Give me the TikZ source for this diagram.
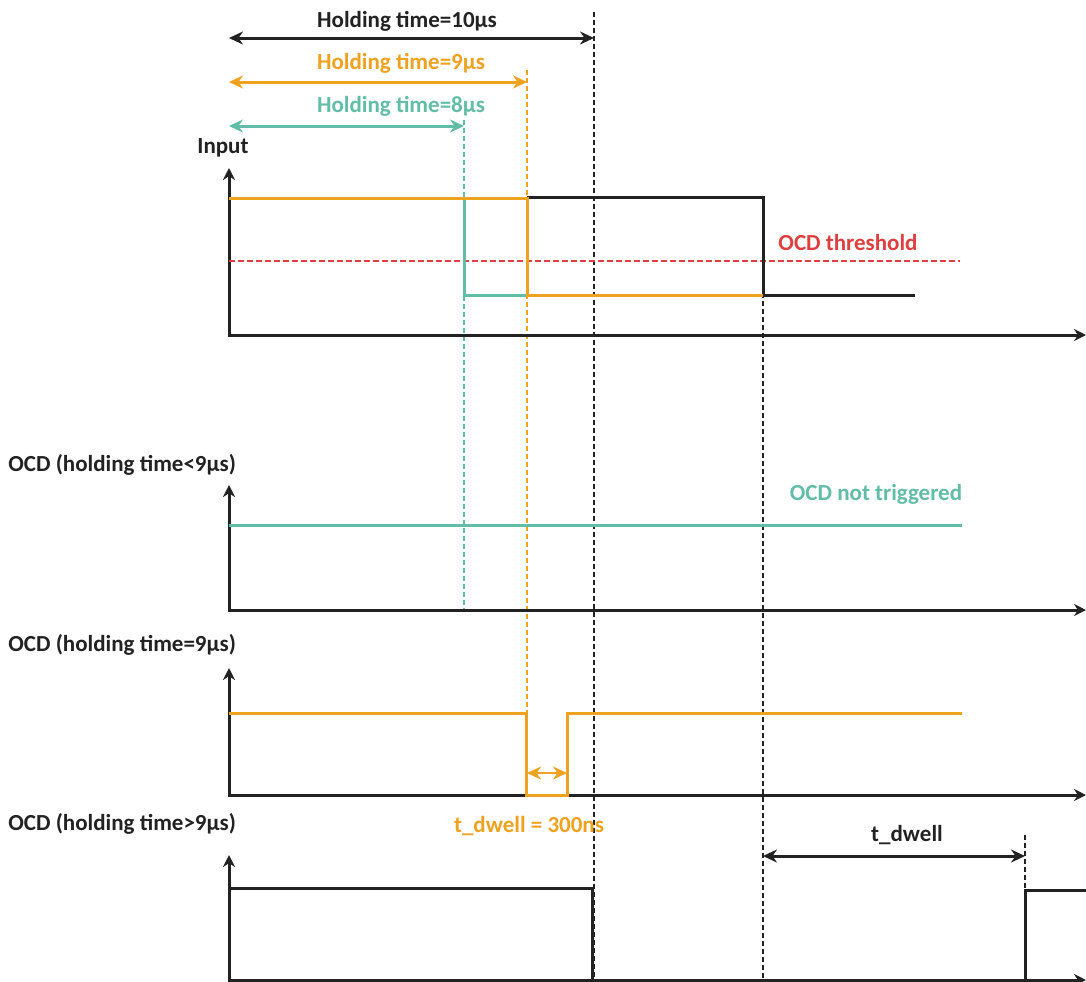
\documentclass[tikz,border=0pt]{standalone}
\usepackage{fontspec}
\setmainfont{Carlito}
\usetikzlibrary{arrows.meta}
\definecolor{ocdorange}{RGB}{238,162,32}
\definecolor{ocdteal}{RGB}{98,189,168}
\definecolor{ocdred}{RGB}{222,64,64}
\definecolor{ocdblack}{RGB}{34,34,34}
\tikzset{
  axis/.style={line width=1.5pt,ocdblack,-{Stealth[length=6pt,width=6pt]}},
  wave/.style={line width=1.5pt,line join=miter},
  guide/.style={line width=0.6pt,dash pattern=on 2.5pt off 1.5pt},
  span/.style={line width=1.5pt,{Stealth[length=7pt,width=6.5pt]}-{Stealth[length=7pt,width=6.5pt]}},
  lbl/.style={font=\fontsize{11.5}{13}\selectfont\bfseries,inner sep=0pt}
}
\begin{document}
\begin{tikzpicture}[x=0.5pt,y=-0.5pt]
\useasboundingbox[fill=white] (0,0) rectangle (1086,981);
% time instants
\coordinate (t0) at (229,0);
\coordinate (t8) at (464,0);
\coordinate (t9) at (527,0);
\coordinate (t10) at (594,0);
\coordinate (toff) at (763,0);
\coordinate (ton) at (1025,0);

% holding time spans
\node[lbl,ocdblack] (h10) at (407,21) {Holding time=10µs};
\node[lbl,ocdorange] (h9) at (401,63) {Holding time=9µs};
\node[lbl,ocdteal] (h8) at (401,106) {Holding time=8µs};
\coordinate (h10a) at (229,38);  \coordinate (h10b) at (594,38);
\coordinate (h9a) at (229,82);   \coordinate (h9b) at (527,82);
\coordinate (h8a) at (229,126);  \coordinate (h8b) at (464,126);
\draw[span,ocdblack] (h10a) -- (h10b);
\draw[span,ocdorange] (h9a) -- (h9b);
\draw[span,ocdteal] (h8a) -- (h8b);

% guide lines
\draw[guide,ocdteal] (464,120) -- (464,610);
\draw[guide,ocdorange] (527,70) -- (527,795);
\draw[guide,ocdblack] (594,12) -- (594,981);
\draw[guide,ocdblack] (763,197) -- (763,981);
\draw[guide,ocdblack] (1025,835) -- (1025,890);

% input panel
\node[lbl,ocdblack,anchor=west] (input) at (197,148) {Input};
\draw[axis] (229,335) -- (229,168);
\draw[axis] (228,335) -- (1086,335);
\draw[line width=0.8pt,ocdred,dash pattern=on 3pt off 1.5pt] (229,261) -- (960,261);
\node[lbl,ocdred] (thr) at (848,243) {OCD threshold};
\draw[wave,ocdblack] (527,197) -- (763,197) -- (763,295) -- (915,295);
\draw[wave,ocdteal] (464,198) -- (464,295) -- (527,295);
\draw[wave,ocdorange] (229,198) -- (527,198) -- (527,295) -- (763,295);

% OCD, holding time < 9us
\node[lbl,ocdblack,anchor=west] (ocd1) at (8,465) {OCD (holding time<9µs)};
\draw[axis] (229,610) -- (229,485);
\draw[axis] (228,610) -- (1086,610);
\draw[wave,ocdteal] (229,525) -- (962,525);
\node[lbl,ocdteal] (nt) at (876,494) {OCD not triggered};

% OCD, holding time = 9us
\node[lbl,ocdblack,anchor=west] (ocd2) at (8,645) {OCD (holding time=9µs)};
\draw[axis] (229,795) -- (229,668);
\draw[axis] (228,795) -- (1086,795);
\draw[wave,ocdorange] (229,713) -- (526,713) -- (526,795) -- (567,795) -- (567,713) -- (962,713);
\coordinate (d1a) at (527,773); \coordinate (d1b) at (567,773);
\draw[span,ocdorange,line width=1.2pt] (d1a) -- (d1b);
\node[lbl,ocdorange] (dw1) at (529,826) {t\_dwell = 300ns};

% OCD, holding time > 9us
\node[lbl,ocdblack,anchor=west] (ocd3) at (8,824) {OCD (holding time>9µs)};
\draw[axis] (229,981) -- (229,855);
\draw[axis] (228,980) -- (1086,980);
\draw[wave,ocdblack] (229,888) -- (592,888) -- (592,981);
\draw[wave,ocdblack] (1025,981) -- (1025,890) -- (1086,890);
\coordinate (d2a) at (763,856); \coordinate (d2b) at (1025,856);
\draw[span,ocdblack] (d2a) -- (d2b);
\node[lbl,ocdblack] (dw2) at (907,835) {t\_dwell};
\end{tikzpicture}
\end{document}
